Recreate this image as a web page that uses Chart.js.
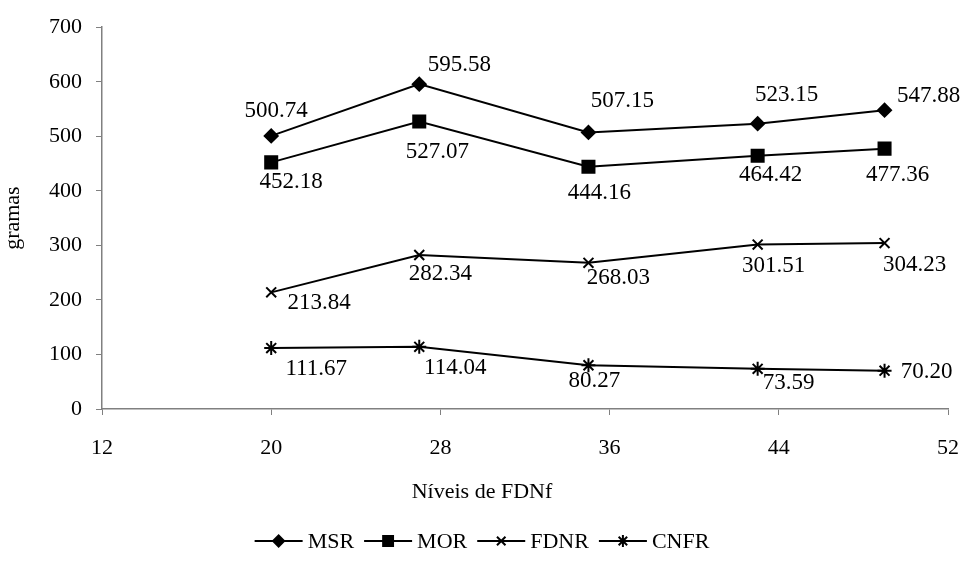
<!DOCTYPE html>
<html>
<head>
<meta charset="utf-8">
<script src="https://cdn.jsdelivr.net/npm/chart.js@4.4.0/dist/chart.umd.min.js"></script>
<style>
  html, body { margin: 0; padding: 0; background: #fff; }
  #wrap { width: 964px; height: 565px; }
</style>
</head>
<body>
<div id="wrap"><canvas id="graphCanvas" width="964" height="565"></canvas></div>
<script>
// dados
var niveis = [20, 27, 35, 43, 49];
var msr  = [500.74, 595.58, 507.15, 523.15, 547.88];
var mor  = [452.18, 527.07, 444.16, 464.42, 477.36];
var fdnr = [213.84, 282.34, 268.03, 301.51, 304.23];
var cnfr = [111.67, 114.04, 80.27, 73.59, 70.20];
var nomes = ['MSR', 'MOR', 'FDNR', 'CNFR'];
var tituloX = 'Níveis de FDNf';
var tituloY = 'gramas';

// posicao dos rotulos (deslocamento em px a partir do ponto)
var rotMSR  = [[5,-25],[40,-19],[34,-31],[29,-29],[44,-14]];
var rotMOR  = [[20,20],[18,30],[11,26],[13,19],[13,26]];
var rotFDNR = [[48,11],[21,19],[30,15],[16,21],[30,22]];
var rotCNFR = [[45,21],[36,21],[6,16],[31,14],[42,1]];

var fonte = 'Liberation Serif, Times New Roman, serif';

function pontos(vals) {
    var out = [];
    for (var i = 0; i < niveis.length; i++) {
        out.push({ x: niveis[i], y: vals[i] });
    }
    return out;
}

function serie(nome, vals, estilo, raio, raioLeg, rot) {
    return {
        label: nome,
        data: pontos(vals),
        borderColor: '#000',
        backgroundColor: '#000',
        borderWidth: 2,
        pointStyle: estilo,
        pointRadius: raio,
        pointBorderWidth: 2,
        pointBackgroundColor: '#000',
        pointBorderColor: '#000',
        tension: 0,
        clip: false,
        raioLegenda: raioLeg,
        rotulos: rot
    };
}

var rotulosPlugin = {
    id: 'rotulos',
    afterDatasetsDraw: function (chart) {
        var ctx = chart.ctx;
        ctx.save();
        ctx.font = '23px ' + fonte;
        ctx.fillStyle = '#000';
        ctx.textAlign = 'center';
        ctx.textBaseline = 'middle';
        chart.data.datasets.forEach(function (ds, di) {
            var meta = chart.getDatasetMeta(di);
            meta.data.forEach(function (pt, i) {
                var off = ds.rotulos[i];
                ctx.fillText(ds.data[i].y.toFixed(2), pt.x + off[0], pt.y + off[1]);
            });
        });
        ctx.restore();
    }
};

// titulo do eixo x centrado na figura + legenda embaixo
var legendaPlugin = {
    id: 'legenda',
    afterDraw: function (chart) {
        var ctx = chart.ctx;
        ctx.save();
        ctx.font = '22px ' + fonte;
        ctx.fillStyle = '#000';
        ctx.textAlign = 'center';
        ctx.textBaseline = 'middle';
        ctx.fillText(tituloX, chart.width / 2, 492);

        var linha = 48, gapTxt = 5, gapItem = 10;
        var larg = 0;
        chart.data.datasets.forEach(function (ds) {
            larg += linha + gapTxt + ctx.measureText(ds.label).width + gapItem;
        });
        larg -= gapItem;
        var x = chart.width / 2 - larg / 2;
        var y = 541;
        chart.data.datasets.forEach(function (ds) {
            ctx.strokeStyle = '#000';
            ctx.fillStyle = '#000';
            ctx.lineWidth = 2;
            ctx.beginPath();
            ctx.moveTo(x, y);
            ctx.lineTo(x + linha, y);
            ctx.stroke();
            Chart.helpers.drawPoint(ctx, {
                pointStyle: ds.pointStyle,
                radius: ds.raioLegenda,
                rotation: 0,
                borderWidth: 2
            }, x + linha / 2, y);
            ctx.fillStyle = '#000';
            ctx.textAlign = 'left';
            ctx.textBaseline = 'middle';
            ctx.fillText(ds.label, x + linha + gapTxt, y + 1);
            x += linha + gapTxt + ctx.measureText(ds.label).width + gapItem;
        });
        ctx.restore();
    }
};

var graphTarget = document.getElementById('graphCanvas');

var grafico = new Chart(graphTarget, {
    type: 'line',
    data: {
        datasets: [
            serie(nomes[0], msr, 'rectRot', 6.5, 5.5, rotMSR),
            serie(nomes[1], mor, 'rect', 8.5, 7, rotMOR),
            serie(nomes[2], fdnr, 'crossRot', 7, 6, rotFDNR),
            serie(nomes[3], cnfr, 'star', 7, 6, rotCNFR)
        ]
    },
    options: {
        responsive: false,
        animation: false,
        events: [],
        layout: { padding: { top: 23, right: 16, bottom: 45, left: 0 } },
        plugins: {
            legend: { display: false },
            tooltip: { enabled: false }
        },
        scales: {
            x: {
                type: 'linear',
                min: 12,
                max: 52,
                afterFit: function (s) {
                    s.height = 111;
                    s.paddingRight = 12;
                    s.paddingLeft = 0;
                },
                ticks: {
                    stepSize: 8,
                    color: '#000',
                    padding: 20,
                    maxRotation: 0,
                    font: { family: fonte, size: 22 }
                },
                grid: { drawOnChartArea: false, tickLength: 6, color: '#808080', tickColor: '#808080' },
                border: { color: '#808080', width: 1.5 }
            },
            y: {
                min: 0,
                max: 700,
                afterFit: function (s) { s.width = 102; },
                ticks: {
                    stepSize: 100,
                    color: '#000',
                    padding: 14,
                    font: { family: fonte, size: 22 }
                },
                grid: { drawOnChartArea: false, tickLength: 6, color: '#808080', tickColor: '#808080' },
                border: { color: '#808080', width: 1.5 },
                title: {
                    display: true,
                    text: tituloY,
                    color: '#000',
                    font: { family: fonte, size: 22 },
                    padding: { top: 0, bottom: 3 }
                }
            }
        }
    },
    plugins: [rotulosPlugin, legendaPlugin]
});
</script>
</body>
</html>
